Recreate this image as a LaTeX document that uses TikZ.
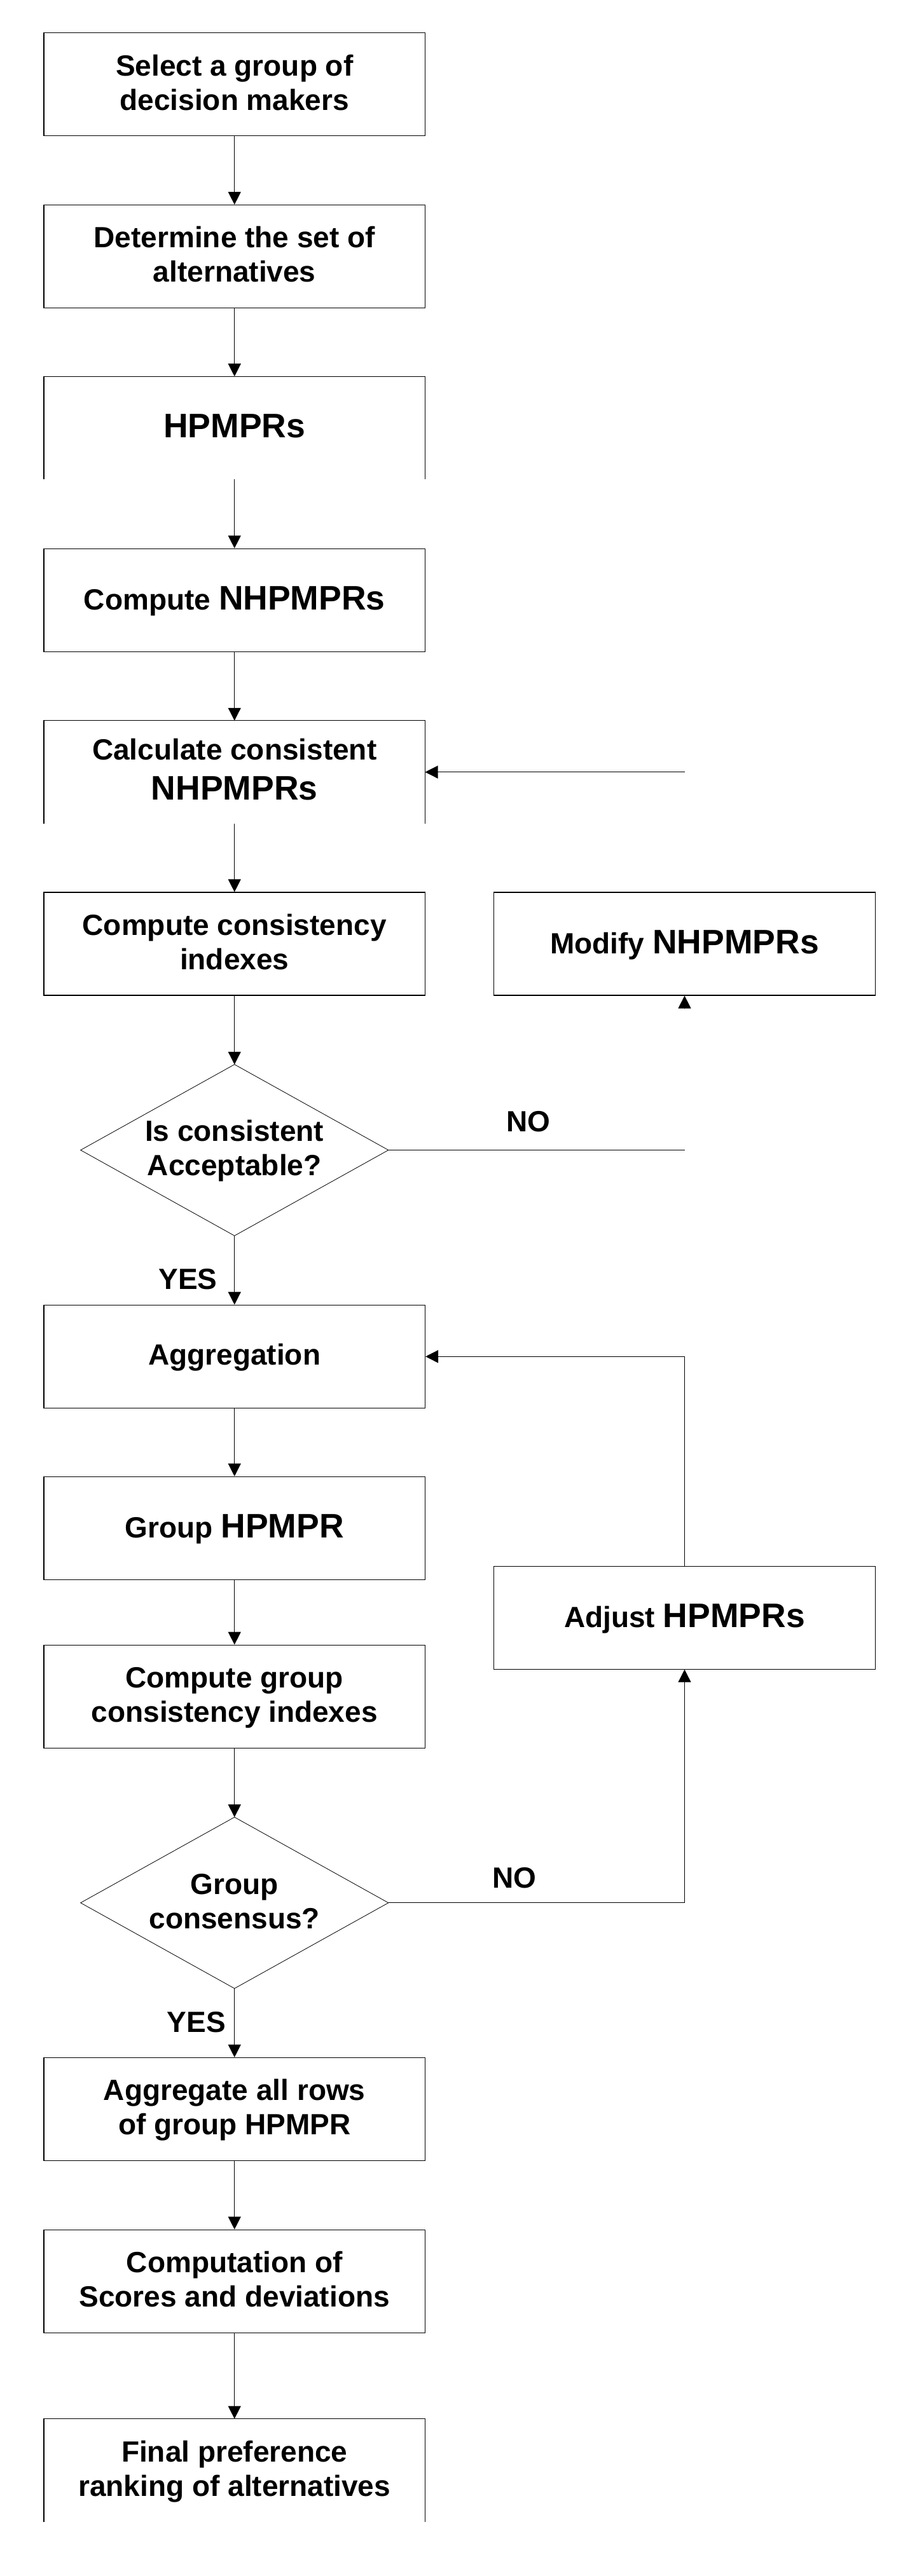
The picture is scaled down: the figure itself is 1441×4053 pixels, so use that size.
\documentclass[tikz,border=0pt]{standalone}
\usepackage{fontspec}
\setmainfont{Liberation Sans}
\usetikzlibrary{arrows.meta}
\newcommand\vs{\rule[-0.212em]{0pt}{1.008em}}
\newcommand\bt[1]{{\fontsize{26.75}{32}\selectfont\vs#1}}
\begin{document}
\begin{tikzpicture}[x=0.5pt,y=-0.5pt,
  txt/.style={font=\fontsize{23}{27}\selectfont\bfseries, align=center},
  box/.style={txt, draw, line width=0.6pt, minimum width=299.75pt, minimum height=81pt, inner sep=0pt},
  obox/.style={txt, minimum width=299.75pt, minimum height=81pt, inner sep=0pt, outer sep=0pt},
  dia/.style={txt, minimum width=242pt, minimum height=134.75pt, inner sep=0pt, outer sep=0pt},
  conn/.style={line width=0.6pt, -{Triangle[length=10pt,width=10pt]}},
  wire/.style={line width=0.6pt},
  dline/.style={line width=0.4pt},
  lbl/.style={font=\fontsize{23}{27}\selectfont\bfseries, anchor=base, inner sep=0pt}
]
\useasboundingbox (0,0) rectangle (1441,4053);

% main column
\node[box] (b1) at (368.75,132.75) {\vs Select a group of\\\vs decision makers};
\node[box] (b2) at (368.75,403.5) {\vs Determine the set of\\\vs alternatives};
\node[obox] (b3) at (368.75,673.2) {\bt{HPMPRs}};
\node[box] (b4) at (368.75,944.25) {\vs Compute \bt{NHPMPRs}};
\node[obox] (b5) at (368.75,1214.75) {\vs Calculate consistent\\[4.5pt]\bt{NHPMPRs}};
\node[box] (b6) at (368.75,1485) {\vs Compute consistency\\\vs indexes};
\node[dia] (d1) at (368.75,1809.5) {\vs Is consistent\\\vs Acceptable?};
\node[box] (b7) at (368.75,2134.3) {\vs Aggregation};
\node[box] (b8) at (368.75,2404.3) {\vs Group \bt{HPMPR}};
\node[box] (b9) at (368.75,2669.2) {\vs Compute group\\\vs consistency indexes};
\node[dia] (d2) at (368.75,2993.8) {\vs Group\\\vs consensus?};
\node[box] (b10) at (368.75,3318.5) {\vs Aggregate all rows\\\vs of group HPMPR};
\node[box] (b11) at (368.75,3589.25) {\vs Computation of\\\vs Scores and deviations};
\node[obox] (b12) at (368.75,3886.6) {\vs Final preference\\\vs ranking of alternatives};

% right column
\node[box] (m) at (1076.5,1485) {\vs Modify \bt{NHPMPRs}};
\node[box] (a) at (1076.5,2545.1) {\vs Adjust \bt{HPMPRs}};

% open boxes
\draw[wire] (b3.south west) -- (b3.north west) -- (b3.north east) -- (b3.south east);
\draw[wire] (b5.south west) -- (b5.north west) -- (b5.north east) -- (b5.south east);
\draw[wire] (b12.south west) -- (b12.north west) -- (b12.north east) -- (b12.south east);

% diamonds
\draw[dline] (d1.north) -- (d1.east) -- (d1.south) -- (d1.west) -- cycle;
\draw[dline] (d2.north) -- (d2.east) -- (d2.south) -- (d2.west) -- cycle;

% main connectors
\draw[conn] (b1.south) -- (b2.north);
\draw[conn] (b2.south) -- (b3.north);
\draw[conn] (b3.south) -- (b4.north);
\draw[conn] (b4.south) -- (b5.north);
\draw[conn] (b5.south) -- (b6.north);
\draw[conn] (b6.south) -- (d1.north);
\draw[conn] (d1.south) -- (b7.north);
\draw[conn] (b7.south) -- (b8.north);
\draw[conn] (b8.south) -- (b9.north);
\draw[conn] (b9.south) -- (d2.north);
\draw[conn] (d2.south) -- (b10.north);
\draw[conn] (b10.south) -- (b11.north);
\draw[conn] (b11.south) -- (b12.north);

% feedback connectors
\coordinate (c1) at (1077,1214.75);
\draw[conn] (c1) -- (b5.east);
\coordinate (c2) at (1076.5,1586.5);
\draw[conn] (c2) -- (m.south);
\coordinate (c3) at (1077,1809.5);
\draw[wire] (d1.east) -- (c3);
\draw[conn] (d2.east) -| (a.south);
\draw[conn] (a.north) |- (b7.east);

% labels
\node[lbl] (no1) at (830.5,1780) {NO};
\node[lbl] (yes1) at (295.6,2028) {YES};
\node[lbl] (no2) at (809,2970) {NO};
\node[lbl] (yes2) at (309,3197) {YES};
\end{tikzpicture}
\end{document}
